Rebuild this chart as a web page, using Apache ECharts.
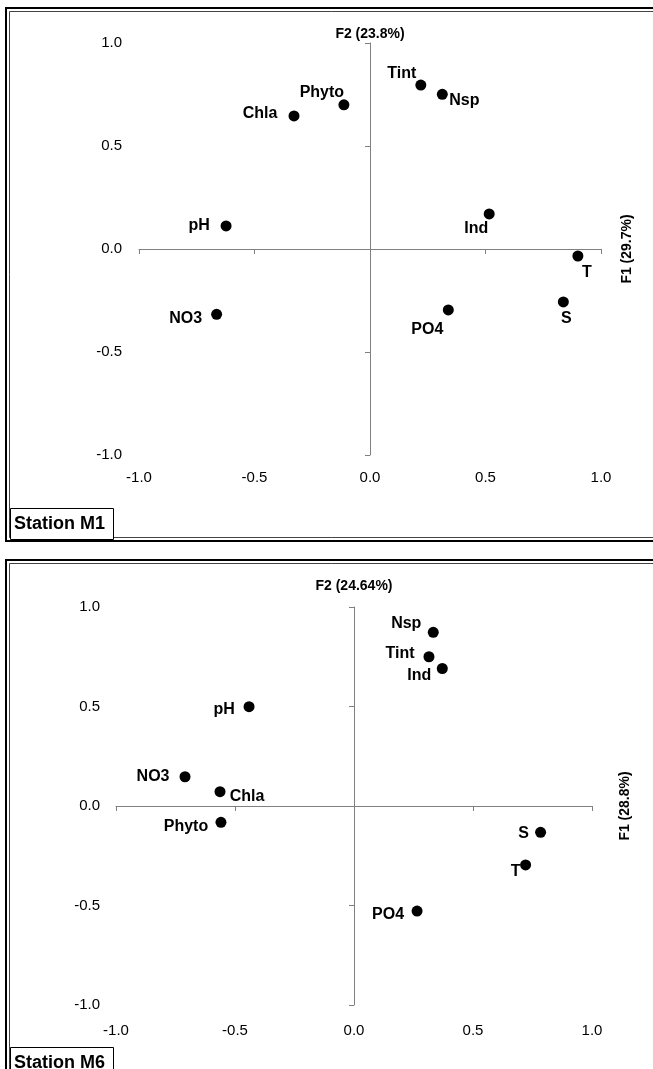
<!DOCTYPE html>
<html>
<head>
<meta charset="utf-8">
<script src="https://cdn.jsdelivr.net/npm/echarts@6/dist/echarts.min.js"></script>
<style>
html,body{margin:0;padding:0;background:#fff;}
#chart{width:653px;height:1069px;}
</style>
</head>
<body>
<div id="chart"></div>
<script>
// ---- Data ----
const tickValues = [-1.0, -0.5, 0.0, 0.5, 1.0];

const m1Vars = ['Phyto', 'Chla', 'pH', 'Tint', 'Nsp', 'Ind', 'T', 'S', 'PO4', 'NO3'];
const m1F1 = [-0.113, -0.329, -0.623, 0.220, 0.313, 0.516, 0.900, 0.837, 0.339, -0.664];
const m1F2 = [0.700, 0.646, 0.112, 0.796, 0.751, 0.170, -0.034, -0.257, -0.296, -0.317];
const m1AxisF1 = 'F1 (29.7%)';
const m1AxisF2 = 'F2 (23.8%)';
const m1Title = 'Station M1';

const m6Vars = ['pH', 'NO3', 'Chla', 'Phyto', 'Nsp', 'Tint', 'Ind', 'S', 'T', 'PO4'];
const m6F1 = [-0.441, -0.710, -0.563, -0.559, 0.333, 0.315, 0.371, 0.784, 0.721, 0.265];
const m6F2 = [0.499, 0.147, 0.072, -0.082, 0.873, 0.750, 0.691, -0.132, -0.296, -0.528];
const m6AxisF1 = 'F1 (28.8%)';
const m6AxisF2 = 'F2 (24.64%)';
const m6Title = 'Station M6';

// ---- Label placement (style: px offsets of label centre from point) ----
const m1LabelOffsets = {
  Phyto: [-22, -12], Chla: [-34, -2], pH: [-27, 0], Tint: [-19, -11], Nsp: [22, 6],
  Ind: [-13, 15], T: [9, 17], S: [3, 17], PO4: [-21, 20], NO3: [-31, 4]
};
const m6LabelOffsets = {
  pH: [-25, 3], NO3: [-32, 0], Chla: [27, 5], Phyto: [-35, 4], Nsp: [-27, -9],
  Tint: [-29, -3], Ind: [-23, 7], S: [-17, 1], T: [-10, 7], PO4: [-29, 4]
};

const FONT = '"Liberation Sans", Arial, Helvetica, sans-serif';
const AXIS_COLOR = '#808080';

function buildPoints(vars, f1, f2) {
  return vars.map((name, i) => ({ name: name, value: [f1[i], f2[i]] }));
}

function labelXAxis(gridIndex, margin) {
  return {
    gridIndex, type: 'value', min: -1, max: 1, interval: 0.5, position: 'bottom',
    axisLine: { show: false, onZero: false }, axisTick: { show: false }, splitLine: { show: false },
    axisLabel: { margin, color: '#000', fontFamily: FONT, fontSize: 15,
      formatter: v => v.toFixed(1), showMinLabel: true, showMaxLabel: true }
  };
}
function lineXAxis(gridIndex, name, nameGap, onZeroIdx) {
  return {
    gridIndex, type: 'value', min: -1, max: 1, interval: 0.5, position: 'top',
    axisLine: { show: true, onZero: true, onZeroAxisIndex: onZeroIdx, lineStyle: { color: AXIS_COLOR, width: 1 } },
    axisTick: { show: true, inside: true, length: 5, lineStyle: { color: AXIS_COLOR } },
    axisLabel: { show: false }, splitLine: { show: false },
    name, nameLocation: 'end', nameGap, nameRotate: 90,
    nameTextStyle: { color: '#000', fontFamily: FONT, fontSize: 14, fontWeight: 'bold' }
  };
}
function labelYAxis(gridIndex, margin) {
  return {
    gridIndex, type: 'value', min: -1, max: 1, interval: 0.5, position: 'left',
    axisLine: { show: false, onZero: false }, axisTick: { show: false }, splitLine: { show: false },
    axisLabel: { margin, color: '#000', fontFamily: FONT, fontSize: 15,
      formatter: v => v.toFixed(1), showMinLabel: true, showMaxLabel: true }
  };
}
function lineYAxis(gridIndex, name, nameGap, onZeroIdx) {
  return {
    gridIndex, type: 'value', min: -1, max: 1, interval: 0.5, position: 'right',
    axisLine: { show: true, onZero: true, onZeroAxisIndex: onZeroIdx, lineStyle: { color: AXIS_COLOR, width: 1 } },
    axisTick: { show: true, inside: true, length: 5, lineStyle: { color: AXIS_COLOR } },
    axisLabel: { show: false }, splitLine: { show: false },
    name, nameLocation: 'end', nameGap,
    nameTextStyle: { color: '#000', fontFamily: FONT, fontSize: 14, fontWeight: 'bold' }
  };
}

function scatterSeries(xi, yi, vars, f1, f2, offsets) {
  return {
    type: 'scatter', xAxisIndex: xi, yAxisIndex: yi, data: buildPoints(vars, f1, f2),
    symbol: 'circle', symbolSize: 11,
    itemStyle: { color: '#000', opacity: 1 },
    label: { show: true, position: 'inside', formatter: '{b}', color: '#000',
      fontFamily: FONT, fontSize: 16, fontWeight: 'bold' },
    labelLayout: function (p) {
      const o = offsets[vars[p.dataIndex]] || [0, 0];
      return { dx: o[0], dy: o[1], hideOverlap: false };
    },
    emphasis: { disabled: true },
    silent: true, animation: false, z: 5
  };
}

function panelFrame(y, h) {
  return [
    { type: 'rect', shape: { x: 6, y: y, width: 680, height: h }, style: { fill: 'none', stroke: '#000', lineWidth: 2 }, silent: true, z: 0 },
    { type: 'rect', shape: { x: 9.5, y: y + 3.5, width: 680, height: h - 7 }, style: { fill: 'none', stroke: '#444', lineWidth: 1 }, silent: true, z: 0 }
  ];
}
function stationBox(y, h, text) {
  return {
    type: 'group', silent: true, z: 10,
    children: [
      { type: 'rect', shape: { x: 10.5, y: y + 0.5, width: 103, height: h }, style: { fill: '#fff', stroke: '#000', lineWidth: 1 } },
      { type: 'text', x: 14, y: y + h / 2 + 1, style: { text: text, fill: '#000', font: 'bold 18px ' + FONT, textVerticalAlign: 'middle' } }
    ]
  };
}

const chart = echarts.init(document.getElementById('chart'), null, { renderer: 'canvas' });
chart.setOption({
  animation: false,
  backgroundColor: '#fff',
  grid: [
    { left: 139, top: 43, width: 462, height: 412 },
    { left: 116, top: 607, width: 476, height: 398 }
  ],
  xAxis: [
    labelXAxis(0, 15),
    lineXAxis(0, m1AxisF1, 19, 1),
    labelXAxis(1, 18),
    lineXAxis(1, m6AxisF1, 26, 3)
  ],
  yAxis: [
    labelYAxis(0, 17),
    lineYAxis(0, m1AxisF2, 2, 1),
    labelYAxis(1, 16),
    lineYAxis(1, m6AxisF2, 14, 3)
  ],
  series: [
    scatterSeries(0, 0, m1Vars, m1F1, m1F2, m1LabelOffsets),
    scatterSeries(2, 2, m6Vars, m6F1, m6F2, m6LabelOffsets)
  ],
  graphic: [
    ...panelFrame(8, 533),
    ...panelFrame(560, 530),
    stationBox(508, 31, m1Title),
    stationBox(1047, 30, m6Title)
  ]
});
</script>
</body>
</html>
